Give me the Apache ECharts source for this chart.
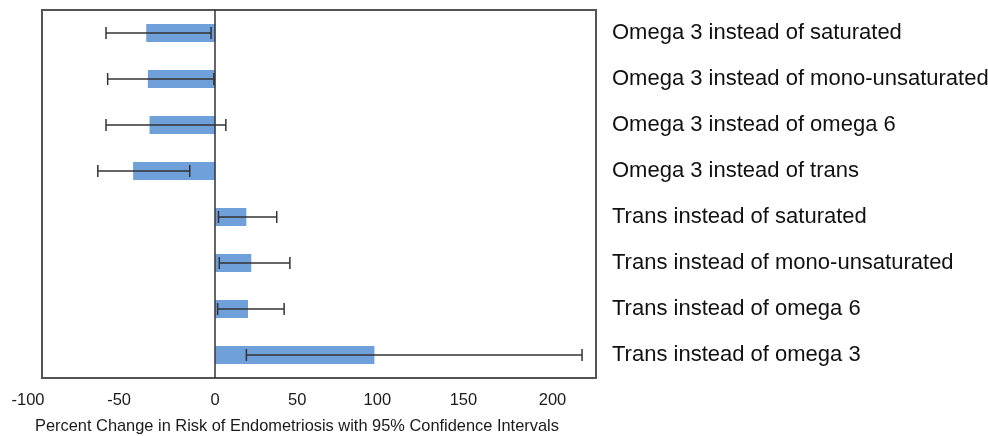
<!DOCTYPE html>
<html>
<head>
<meta charset="utf-8">
<script src="https://cdn.jsdelivr.net/npm/echarts@6/dist/echarts.min.js"></script>
<style>
  html, body { margin: 0; padding: 0; background: #fff; }
  #chart { width: 988px; height: 436px; }
</style>
</head>
<body>
<div id="chart"></div>
<script>
// categories top to bottom
const categories = [
  "Omega 3 instead of saturated",
  "Omega 3 instead of mono-unsaturated",
  "Omega 3 instead of omega 6",
  "Omega 3 instead of trans",
  "Trans instead of saturated",
  "Trans instead of mono-unsaturated",
  "Trans instead of omega 6",
  "Trans instead of omega 3"
];
// percent change estimates and 95% CI
const estimates = [-42, -41, -40, -50, 19, 22, 20, 97];
const lowerCI = [-66.5, -65.5, -66.5, -71.5, 2, 2.5, 1.5, 19];
const upperCI = [-2.5, -0.8, 6.5, -15.5, 37.5, 45.5, 42, 223.5];
const tickValues = [-100, -50, 0, 50, 100, 150, 200];

const chart = echarts.init(document.getElementById("chart"));
const font = "'Liberation Sans', Arial, Helvetica, sans-serif";

// the printed tick labels sit a little off their true positions (px)
const labelShift = [-23, -14, 0, 0, -2, 2, 9];
const rich = {};
labelShift.forEach((s, i) => {
  rich["t" + i] = {
    fontSize: 16.5,
    color: "#1a1a1a",
    fontFamily: font,
    padding: s < 0 ? [0, -2 * s, 0, 0] : [0, 0, 0, 2 * s]
  };
});

const option = {
  animation: false,
  textStyle: { fontFamily: font },
  title: {
    text: "Percent Change in Risk of Endometriosis with 95% Confidence Intervals",
    left: 30,
    top: 413,
    textStyle: { fontSize: 16.4, fontWeight: "normal", color: "#1a1a1a", fontFamily: font }
  },
  grid: {
    left: 42, right: 392, top: 10, bottom: 58,
    outerBoundsMode: "none",
    containLabel: false,
    show: true, borderColor: "#555", borderWidth: 2
  },
  xAxis: {
    type: "value",
    min: -105.5,
    max: 232,
    splitLine: { show: false },
    axisLine: { show: false },
    axisTick: { show: false },
    axisLabel: {
      customValues: tickValues,
      margin: 14,
      formatter: (v) => "{t" + tickValues.indexOf(v) + "|" + v + "}",
      rich: rich
    }
  },
  yAxis: {
    type: "category",
    data: categories,
    inverse: true,
    position: "right",
    axisLine: { show: false },
    axisTick: { show: false },
    axisLabel: {
      align: "left",
      margin: 16,
      fontSize: 22,
      color: "#111"
    }
  },
  series: [
    {
      type: "bar",
      data: estimates,
      barWidth: 18,
      itemStyle: { color: "#6fa0d9" },
      markLine: {
        silent: true,
        symbol: "none",
        label: { show: false },
        lineStyle: { color: "#333", width: 1.5, type: "solid" },
        data: [{ xAxis: 0 }]
      }
    },
    {
      type: "custom",
      data: categories.map((c, i) => [i, lowerCI[i], upperCI[i]]),
      renderItem: (params, api) => {
        const idx = api.value(0);
        const lo = api.coord([api.value(1), idx]);
        const hi = api.coord([api.value(2), idx]);
        const cap = 6;
        const style = { stroke: "#333", lineWidth: 1.5 };
        return {
          type: "group",
          children: [
            { type: "line", shape: { x1: lo[0], y1: lo[1], x2: hi[0], y2: hi[1] }, style },
            { type: "line", shape: { x1: lo[0], y1: lo[1] - cap, x2: lo[0], y2: lo[1] + cap }, style },
            { type: "line", shape: { x1: hi[0], y1: hi[1] - cap, x2: hi[0], y2: hi[1] + cap }, style }
          ]
        };
      },
      encode: { x: [1, 2], y: 0 },
      z: 5
    }
  ]
};
chart.setOption(option);
</script>
</body>
</html>
